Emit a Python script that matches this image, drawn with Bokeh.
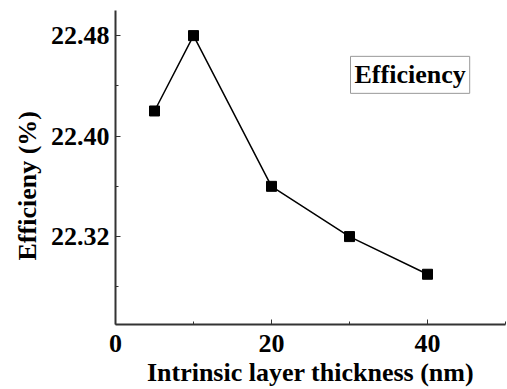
from bokeh.plotting import figure
from bokeh.models import Range1d, FixedTicker, Label, Title
from bokeh.embed import file_html
from bokeh.resources import INLINE

thickness = [5, 10, 20, 30, 40]
efficiency = [22.420, 22.480, 22.360, 22.320, 22.290]
x_major = [0, 20, 40]
x_minor = [10, 30, 50]
y_major = [22.32, 22.40, 22.48]
y_minor = [22.28, 22.36, 22.44]

FONT = "Liberation Serif"

p = figure(width=507, height=389, output_backend="svg", toolbar_location=None,
           x_range=Range1d(0, 50), y_range=Range1d(22.25, 22.50),
           min_border_left=115, min_border_top=10, min_border_right=2, min_border_bottom=63)
p.outline_line_color = None
p.xgrid.visible = False
p.ygrid.visible = False
p.background_fill_color = "white"
p.border_fill_color = "white"

p.line(thickness, efficiency, line_color="black", line_width=1.5)
p.scatter(thickness, efficiency, marker="square", size=10, fill_color="black", line_color="black")

for ax in (p.xaxis[0], p.yaxis[0]):
    ax.axis_line_width = 2
    ax.axis_line_color = "#333333"
    ax.major_tick_in = 5
    ax.major_tick_out = 0
    ax.minor_tick_in = 3
    ax.minor_tick_out = 0
    ax.major_tick_line_color = "#333333"
    ax.minor_tick_line_color = "#333333"
    ax.major_label_text_font = FONT
    ax.major_label_text_font_style = "bold"
    ax.major_label_text_font_size = "26px"
    ax.major_label_text_color = "black"
    ax.axis_label_text_font = FONT
    ax.axis_label_text_font_style = "bold"
    ax.axis_label_text_font_size = "26px"
    ax.axis_label_text_color = "black"

p.xaxis.ticker = FixedTicker(ticks=x_major, minor_ticks=x_minor)
p.yaxis.ticker = FixedTicker(ticks=y_major, minor_ticks=y_minor)
p.xaxis.major_label_overrides = {v: str(v) for v in x_major}
p.yaxis.major_label_overrides = {v: f"{v:.2f}" for v in y_major}
p.xaxis.axis_label = "Intrinsic layer thickness (nm)"
p.xaxis.major_label_standoff = 10
p.xaxis.axis_label_standoff = 3
p.yaxis.major_label_standoff = 6

ytitle = Title(text="Efficieny (%)", align="left", offset=64, text_font=FONT,
               text_font_style="bold", text_font_size="26px", text_color="black",
               standoff=11)
p.add_layout(ytitle, "left")

lbl = Label(x=30.13, y=22.4635, text="Efficiency", text_font=FONT, text_font_style="bold",
            text_font_size="26px", text_color="black", text_align="left", text_baseline="top",
            border_line_color="#999999", border_line_width=1, background_fill_color="white",
            padding=4)
p.add_layout(lbl)

open("out.html", "w").write(file_html(p, INLINE))
